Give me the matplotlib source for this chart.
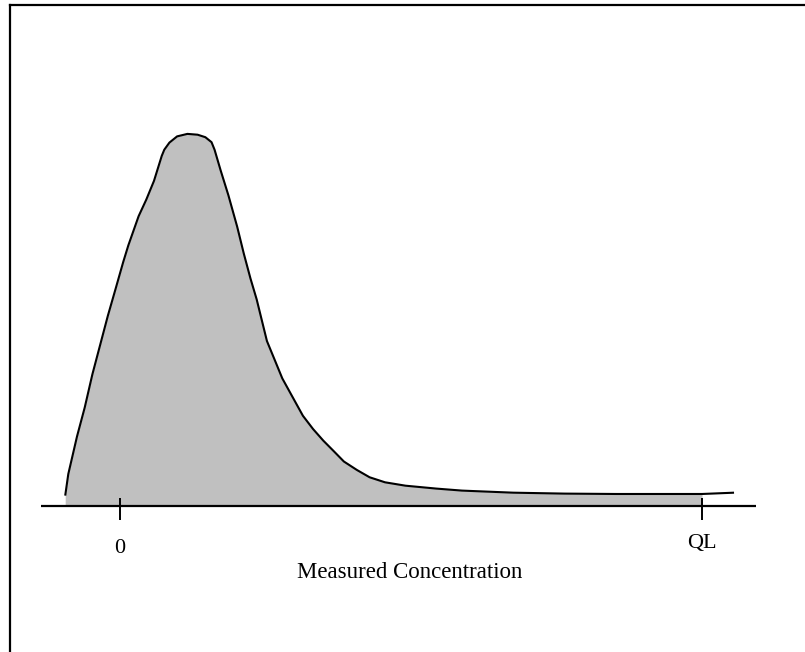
import matplotlib
matplotlib.use("Agg")
import matplotlib.pyplot as plt
import numpy as np

# Measured concentration (QL = 10) and density (peak ~ 100)
conc = [-0.932, -0.879, -0.730, -0.597, -0.465, -0.333, -0.201, -0.068,
        0.064, 0.152, 0.328, 0.460, 0.592, 0.725, 0.769, 0.857, 0.989,
        1.166, 1.341, 1.474, 1.580, 1.632, 1.737, 1.870, 2.020, 2.134,
        2.249, 2.355, 2.531, 2.663, 2.795, 2.972, 3.149, 3.324, 3.500,
        3.677, 3.852, 4.074, 4.294, 4.558, 4.910, 5.439, 5.880, 6.761,
        7.643, 8.524, 10.0, 10.55]
density = [2.79, 8.6, 18.66, 26.48, 35.43, 43.25, 51.08, 58.33,
           65.6, 70.08, 77.9, 82.37, 87.4, 94.1, 95.78, 97.69, 99.36,
           100.03, 99.81, 99.14, 97.8, 95.78, 90.19, 83.5, 75.1, 67.85,
           61.13, 55.54, 44.35, 39.33, 34.3, 29.27, 24.25, 20.67, 17.55,
           14.76, 11.96, 9.7, 7.72, 6.37, 5.46, 4.68, 4.14, 3.58,
           3.33, 3.23, 3.23, 3.58]
tick_pos = [0, 10]
tick_labels = ["0", "QL"]
xlabel = "Measured Concentration"
QL = 10

fig = plt.figure(figsize=(8.05, 6.52), dpi=100)
ax = fig.add_axes([0, 0, 1, 1])
ax.set_xlim(-119.5 / 58.25, (805 - 119.5) / 58.25)
ax.set_ylim((506 - 652) / 3.72, 506 / 3.72)
ax.axis("off")

x = np.array(conc)
y = np.array(density)
mask = x <= QL
ax.fill_between(x[mask], 0, y[mask], color="#c0c0c0", linewidth=0, zorder=1)
ax.plot(x, y, color="black", linewidth=1.5, zorder=3, solid_capstyle="butt",
        solid_joinstyle="round")

# horizontal axis line
ax.plot([(41 - 119.5) / 58.25, (755.5 - 119.5) / 58.25], [0, 0],
        color="black", linewidth=1.6, zorder=4, solid_capstyle="butt")
for tp in tick_pos:
    ax.plot([tp, tp], [(506 - 498) / 3.72, (506 - 520) / 3.72],
            color="black", linewidth=1.4, zorder=4, solid_capstyle="butt")

font = "Liberation Serif"
ax.text(tick_pos[0], (506 - 553) / 3.72, tick_labels[0], ha="center",
        va="baseline", fontsize=16, family=font)
ax.text(tick_pos[1], (506 - 548) / 3.72, tick_labels[1], ha="center",
        va="baseline", fontsize=16, family=font)
ax.text(4.98, (506 - 578) / 3.72, xlabel, ha="center", va="baseline",
        fontsize=16.5, family=font)

# frame lines (top and left)
fig.add_artist(plt.Line2D([10 / 805, 1], [1 - 5 / 652, 1 - 5 / 652],
                          transform=fig.transFigure, color="black", linewidth=1.6))
fig.add_artist(plt.Line2D([10 / 805, 10 / 805], [0, 1 - 5 / 652],
                          transform=fig.transFigure, color="black", linewidth=1.6))

fig.savefig("out.png", dpi=100)
